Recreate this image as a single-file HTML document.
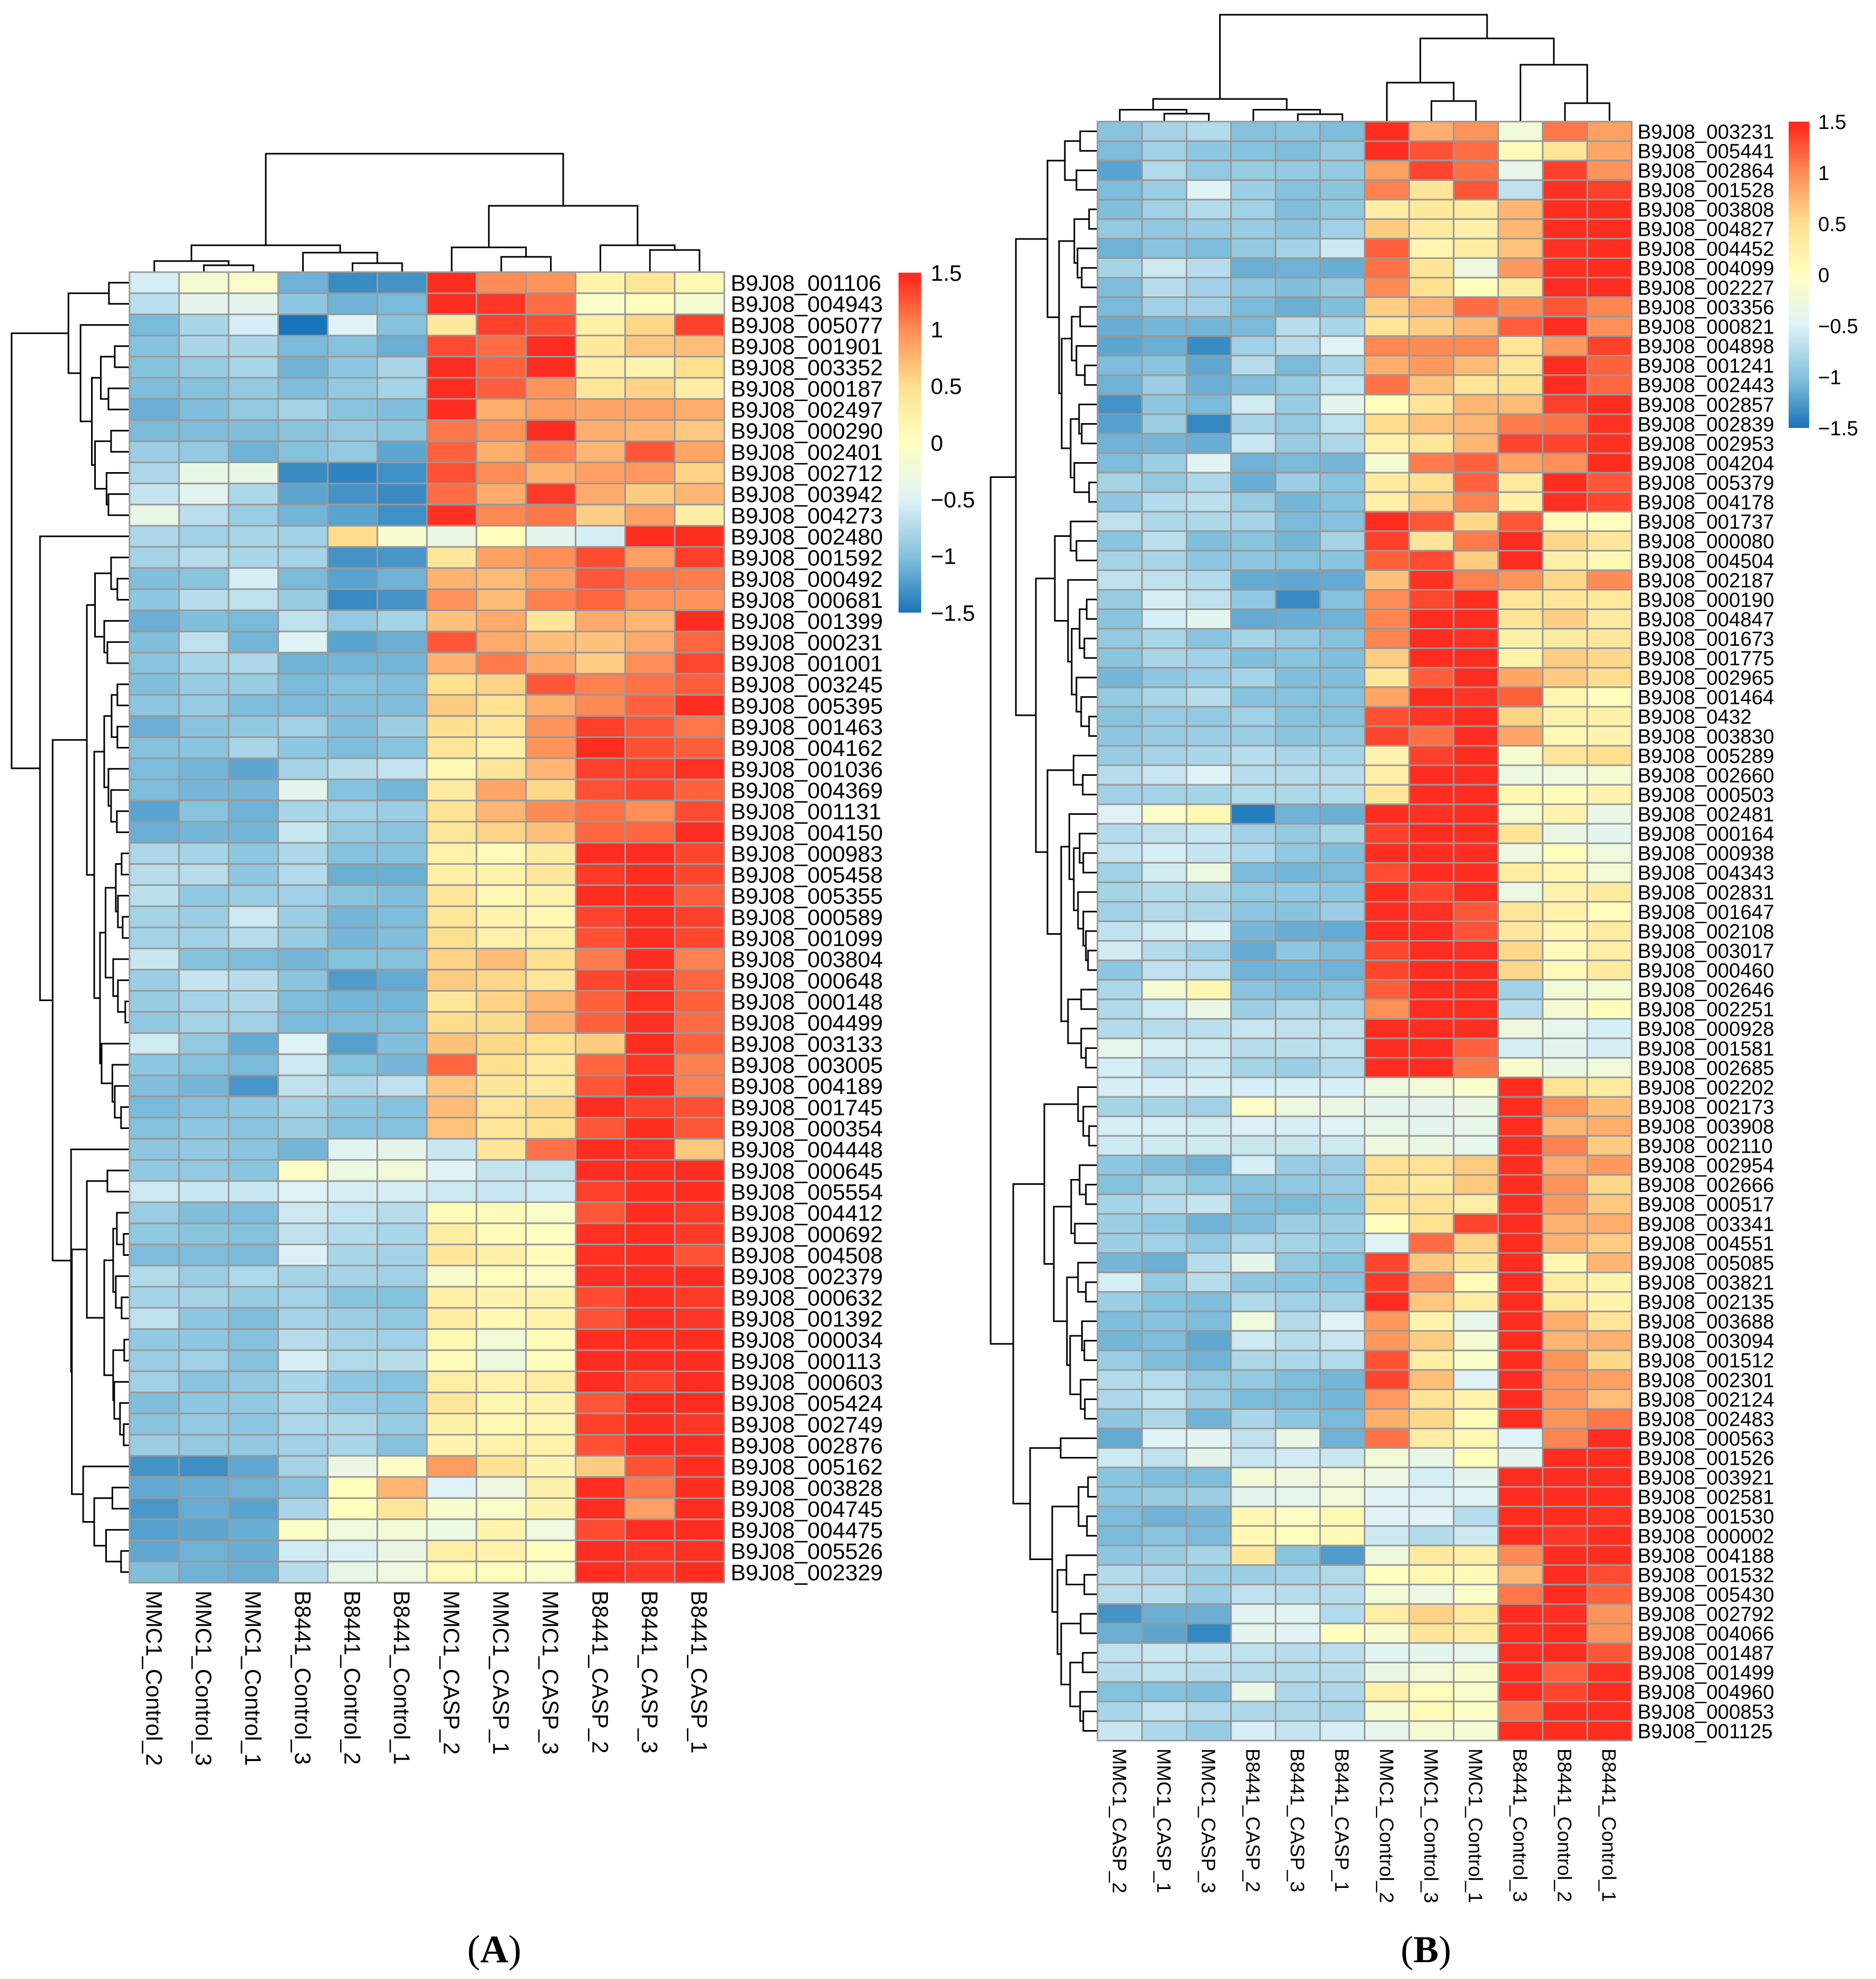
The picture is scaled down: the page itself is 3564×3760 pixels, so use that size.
<!DOCTYPE html>
<html lang="en">
<head>
<meta charset="utf-8">
<title>Heatmaps A and B</title>
<style>
html,body{margin:0;padding:0;background:#fff;}
#figure{display:block;width:3564px;height:3760px;background:#fff;}
text{font-family:"Liberation Sans",Arial,sans-serif;fill:#000;}
.panel{font-family:"Liberation Serif","Times New Roman",serif;}
</style>
</head>
<body>
<svg id="figure" xmlns="http://www.w3.org/2000/svg" width="3564" height="3760" viewBox="0 0 3564 3760">
<defs id="defs"></defs>
<g id="panelA"></g>
<g id="panelB"></g>
<text class="panel" x="939" y="3728" font-size="74" text-anchor="middle">(<tspan font-weight="bold">A</tspan>)</text>
<text class="panel" x="2709" y="3728" font-size="72" text-anchor="middle">(<tspan font-weight="bold">B</tspan>)</text>
</svg>
<script>
// ---------- shared scale ----------
const scaleValues = [-1.5, -1, -0.5, 0, 0.5, 1, 1.44, 1.5];
const scaleColors = ['#1874B8', '#85C2DE', '#DFF3F7', '#FFFFBF', '#FEE08F', '#FF8C55', '#FF2D20', '#FF2D20'];
const legendTicks = [1.5, 1, 0.5, 0, -0.5, -1, -1.5];

// ---------- panel A data ----------
const colsA = ['MMC1_Control_2','MMC1_Control_3','MMC1_Control_1','B8441_Control_3','B8441_Control_2','B8441_Control_1','MMC1_CASP_2','MMC1_CASP_1','MMC1_CASP_3','B8441_CASP_2','B8441_CASP_3','B8441_CASP_1'];
const rowsA = ['001106','004943','005077','001901','003352','000187','002497','000290','002401','002712','003942','004273','002480','001592','000492','000681','001399','000231','001001','003245','005395','001463','004162','001036','004369','001131','004150','000983','005458','005355','000589','001099','003804','000648','000148','004499','003133','003005','004189','001745','000354','004448','000645','005554','004412','000692','004508','002379','000632','001392','000034','000113','000603','005424','002749','002876','005162','003828','004745','004475','005526','002329'];
const valuesA = [
[-.55,-.15,-.1,-1.1,-1.35,-1.3,1.45,1.0,.95,.2,.4,.1],
[-.7,-.4,-.4,-.95,-1.1,-1.05,1.45,1.4,1.15,-.1,.03,-.15],
[-1.05,-.8,-.55,-1.5,-.5,-1.0,.35,1.35,1.3,.25,.55,1.35],
[-1.0,-.8,-.8,-1.05,-1.0,-1.12,1.3,1.15,1.45,.35,.65,.7],
[-1.0,-.9,-.8,-1.1,-.95,-.8,1.45,1.2,1.45,.25,.2,.5],
[-1.03,-1.0,-.92,-1.03,-.92,-.82,1.45,1.22,.95,.4,.58,.3],
[-1.12,-1.02,-.92,-.82,-.98,-1.02,1.45,.8,.9,.85,.85,.8],
[-1.05,-1.03,-1.02,-.98,-.92,-.95,1.1,.95,1.45,.8,.75,.65],
[-.88,-.92,-1.1,-1.0,-.92,-1.18,1.2,.8,1.05,.75,1.25,.85],
[-.78,-.35,-.35,-1.35,-1.4,-1.32,1.28,1.0,.78,.88,.92,.58],
[-.65,-.45,-.78,-1.18,-1.3,-1.35,1.15,.82,1.38,.82,.62,.75],
[-.35,-.7,-.88,-1.08,-1.2,-1.32,1.42,1.02,1.1,.6,.88,.27],
[-.78,-.85,-.8,-.85,.52,-.12,-.32,.02,-.4,-.55,1.47,1.48],
[-.82,-.72,-.8,-.82,-1.3,-1.28,.38,.88,.98,1.3,.88,1.36],
[-1.02,-.98,-.55,-1.05,-1.2,-1.1,.78,.72,.9,1.25,1.1,1.07],
[-.95,-.72,-.68,-.9,-1.35,-1.3,.95,.72,1.05,1.18,.95,.95],
[-1.12,-1.02,-1.05,-.68,-.92,-.82,.68,.82,.4,.82,.75,1.47],
[-1.02,-.68,-1.08,-.48,-1.2,-1.12,1.25,.82,.7,.68,.82,1.18],
[-.98,-.8,-.78,-1.1,-1.08,-1.08,.78,1.08,.82,.6,.98,1.32],
[-1.02,-.9,-.9,-1.05,-1.0,-1.03,.5,.58,1.25,1.05,1.12,1.22],
[-.95,-.9,-1.03,-1.05,-1.02,-1.02,.62,.48,.8,1.02,1.2,1.45],
[-1.12,-.98,-.93,-.85,-1.02,-.88,.5,.4,.95,1.35,1.25,1.1],
[-1.0,-.97,-.8,-.95,-1.03,-.98,.4,.22,.95,1.47,1.28,1.22],
[-1.03,-1.07,-1.18,-.83,-.72,-.66,.12,.42,.75,1.35,1.35,1.42],
[-1.03,-1.07,-1.07,-.42,-1.0,-1.08,.33,.85,.55,1.28,1.33,1.2],
[-1.2,-.98,-1.1,-.8,-.85,-.88,.45,.75,1.0,1.12,.98,1.3],
[-1.12,-1.07,-1.08,-.62,-.92,-.98,.4,.58,.68,1.18,1.18,1.47],
[-.78,-.82,-.95,-.78,-1.0,-1.0,.22,.08,.32,1.47,1.47,1.32],
[-.72,-.72,-.95,-.75,-1.12,-1.12,.25,.2,.38,1.38,1.47,1.32],
[-.7,-.93,-.88,-.85,-.98,-1.02,.38,.12,.2,1.45,1.47,1.22],
[-.82,-.88,-.6,-.87,-1.08,-1.03,.4,.18,.12,1.33,1.47,1.35],
[-.84,-.85,-.73,-.9,-1.07,-1.02,.5,.22,.28,1.28,1.47,1.32],
[-.62,-1.0,-1.03,-1.07,-1.0,-1.0,.58,.72,.5,1.08,1.48,1.05],
[-.87,-.65,-.72,-.97,-1.25,-1.15,.62,.55,.4,1.32,1.42,1.18],
[-.9,-.82,-.78,-1.03,-1.08,-1.08,.38,.58,.75,1.2,1.42,1.2],
[-.93,-.82,-.85,-1.05,-1.05,-1.03,.52,.52,.8,1.2,1.42,1.15],
[-.58,-.92,-1.15,-.5,-1.22,-1.02,.68,.55,.48,.62,1.47,1.2],
[-.95,-1.0,-1.05,-.6,-1.0,-1.07,1.18,.5,.35,1.18,1.4,1.05],
[-1.02,-1.07,-1.28,-.68,-.78,-.68,.65,.4,.35,1.25,1.47,1.05],
[-1.05,-1.0,-.95,-.82,-.95,-1.0,.72,.42,.55,1.45,1.35,1.28],
[-1.0,-.95,-.98,-.88,-1.0,-1.0,.68,.42,.5,1.25,1.47,1.25],
[-.95,-.93,-.97,-1.08,-.45,-.4,-.62,.4,1.12,1.48,1.43,.65],
[-.93,-.92,-.97,-.05,-.3,-.22,-.5,-.65,-.68,1.48,1.48,1.47],
[-.6,-.62,-.62,-.5,-.55,-.55,-.6,-.63,-.6,1.35,1.47,1.48],
[-.88,-1.02,-1.03,-.6,-.66,-.72,.07,.08,-.1,1.25,1.47,1.38],
[-.93,-.97,-1.0,-.68,-.74,-.8,.28,.08,-.03,1.42,1.47,1.38],
[-1.03,-1.03,-1.05,-.52,-.8,-.83,.38,.25,.06,1.42,1.47,1.27],
[-.75,-.88,-.77,-.82,-.82,-.85,-.12,.02,-.07,1.43,1.47,1.48],
[-.82,-.82,-.9,-.83,-.97,-1.0,.25,.17,.18,1.3,1.47,1.38],
[-.68,-.95,-1.03,-.83,-.87,-.93,.3,.12,.2,1.27,1.47,1.4],
[-.93,-.95,-1.0,-.72,-.83,-.85,.12,-.2,.05,1.47,1.47,1.47],
[-.88,-.85,-1.0,-.55,-.76,-.72,.05,-.28,.04,1.47,1.47,1.47],
[-.85,-.97,-.93,-.8,-.95,-1.0,.28,.22,.3,1.47,1.35,1.47],
[-1.02,-.95,-.93,-.78,-.9,-.96,.38,.14,.18,1.25,1.47,1.47],
[-.97,-.92,-.95,-.78,-.78,-.9,.23,.12,.14,1.35,1.47,1.4],
[-.88,-.92,-.93,-.85,-.8,-1.0,.17,.22,.22,1.28,1.47,1.47],
[-1.3,-1.33,-1.17,-.82,-.32,-.05,.9,.48,.16,.62,1.27,1.48],
[-1.16,-1.13,-1.1,-.98,.02,.75,-.5,-.28,.23,1.47,1.1,1.47],
[-1.27,-1.14,-1.2,-.8,.02,.42,-.12,-.08,.18,1.47,.88,1.47],
[-1.22,-1.18,-1.13,-.07,-.25,-.2,-.3,.18,-.27,1.3,1.43,1.47],
[-1.17,-1.1,-1.13,-.58,-.52,-.32,.26,.2,.02,1.47,1.4,1.42],
[-1.02,-1.1,-1.12,-.72,-.35,-.27,.08,.04,-.1,1.48,1.4,1.48]
];
// Dendrograms: node = [merge height, left, right]; 0 = next leaf in display order.
const colTreeA = [225,[51,[21,0,[13,0,0]],[37,0,[17,0,0]]],[126,[47,0,[29,0,0]],[51,0,[42,0,0]]]];
const rowTreeA = [224,
 [116,[39,0,0],[93,0,[71.5,[54.5,[28,0,0],[40,0,0]],[65.5,[35,0,0],[43.6,0,[40,0,0]]]]]],
 [170,0,[146,
  [81,[65.5,[35,0,[23,0,0]],[48,0,[42,0,0]]],
      [67,[48,[34,[23,0,0],[23,0,0]],[40,0,[35,0,[24,0,0]]]],
          [56,[45.5,[26,[15,0,0],[22,0,[13,0,0]]],[31,0,[22,0,[8,0,0]]]],
              [53,0,[32.5,0,[28,0,[16,0,0]]]]]]],
  [111,0,[109.5,
     [81,[42,0,0],[48,[31,[24,0,[11,0,0]],[26,0,[15,0,0]]],[31,[10,0,0],[29,0,[18,0,[11,0,0]]]]]],
     [88,0,[67,[32.5,0,0],[44.5,0,[16,0,0]]]]]]]]];

// ---------- panel B data ----------
const colsB = ['MMC1_CASP_2','MMC1_CASP_1','MMC1_CASP_3','B8441_CASP_2','B8441_CASP_3','B8441_CASP_1','MMC1_Control_2','MMC1_Control_3','MMC1_Control_1','B8441_Control_3','B8441_Control_2','B8441_Control_1'];
const rowsB = ['003231','005441','002864','001528','003808','004827','004452','004099','002227','003356','000821','004898','001241','002443','002857','002839','002953','004204','005379','004178','001737','000080','004504','002187','000190','004847','001673','001775','002965','001464','0432','003830','005289','002660','000503','002481','000164','000938','004343','002831','001647','002108','003017','000460','002646','002251','000928','001581','002685','002202','002173','003908','002110','002954','002666','000517','003341','004551','005085','003821','002135','003688','003094','001512','002301','002124','002483','000563','001526','003921','002581','001530','000002','004188','001532','005430','002792','004066','001487','001499','004960','000853','001125'];
const valuesB = [
[-.98,-.82,-.75,-1.0,-.97,-1.03,1.47,.8,.95,-.22,1.1,.88],
[-1.03,-.85,-.95,-1.0,-1.03,-.92,1.47,1.27,1.15,.08,.42,.85],
[-1.2,-.75,-.92,-.9,-.92,-.92,.88,1.33,1.13,-.37,1.35,.95],
[-1.03,-.88,-.48,-.87,-1.0,-.97,1.05,.42,1.25,-.68,1.42,1.35],
[-1.02,-.85,-.75,-.85,-1.03,-.93,.27,.35,.33,.75,1.47,1.48],
[-.92,-.93,-.9,-.9,-.97,-.85,.62,.32,.22,.75,1.47,1.48],
[-1.1,-.97,-1.03,-.92,-.83,-.6,1.2,.15,.3,.68,1.42,1.48],
[-.82,-.6,-.72,-1.12,-1.1,-1.13,1.12,.42,-.28,.92,1.43,1.47],
[-1.03,-.72,-.85,-.95,-1.02,-.92,1.0,.48,.02,.32,1.45,1.47],
[-1.05,-.85,-.85,-1.05,-1.12,-1.02,.6,.75,1.15,1.0,1.25,1.03],
[-1.13,-1.08,-1.08,-1.05,-.72,-.8,.42,.6,.75,1.22,1.45,.98],
[-1.18,-1.12,-1.35,-.85,-.72,-.5,1.02,1.0,1.02,.42,.92,1.35],
[-1.03,-.97,-1.17,-.72,-1.05,-.8,.8,.92,.72,.4,1.47,1.2],
[-1.1,-.88,-1.12,-1.02,-.92,-.66,1.12,.68,.42,.48,1.47,1.17],
[-1.3,-.95,-1.05,-.58,-.9,-.42,.03,.42,.75,.72,1.35,1.48],
[-1.22,-.88,-1.37,-.8,-.92,-.68,.52,.68,.75,1.07,1.12,1.42],
[-1.1,-1.07,-1.13,-.62,-.9,-.78,.2,.4,.75,1.33,1.33,1.42],
[-1.03,-.87,-.45,-1.1,-1.05,-1.07,-.17,1.08,1.2,.87,.98,1.48],
[-.82,-.92,-.78,-1.13,-.87,-.98,.32,.48,1.2,.35,1.47,1.25],
[-.95,-.75,-.7,-.9,-1.08,-1.0,.25,.62,1.05,.25,1.43,1.33],
[-.68,-.78,-.78,-.82,-1.05,-1.0,1.45,1.25,.55,1.25,.08,.02],
[-.97,-.7,-1.03,-.97,-1.08,-.82,1.35,.42,1.08,1.47,.55,.38],
[-.82,-.8,-.95,-.95,-1.0,-.97,1.2,1.3,.62,1.47,.25,.12],
[-.68,-.68,-.75,-1.15,-1.17,-1.15,.68,1.42,1.05,.95,.55,1.0],
[-.9,-.55,-.68,-.93,-1.35,-1.0,1.0,1.32,1.48,.4,.38,.35],
[-.97,-.55,-.43,-1.15,-1.13,-1.1,1.03,1.47,1.48,.42,.6,.33],
[-.92,-.8,-.98,-.82,-.92,-1.0,1.03,1.48,1.42,.25,.33,.38],
[-.97,-.8,-.85,-1.02,-.98,-1.02,.62,1.48,1.48,.2,.6,.55],
[-1.07,-.95,-.88,-.82,-1.02,-1.02,.4,1.22,1.47,.85,.62,.52],
[-.92,-.8,-.72,-1.0,-1.0,-1.0,.85,1.48,1.4,1.2,.15,.03],
[-.98,-.9,-.92,-.85,-1.0,-1.0,1.28,1.4,1.47,.58,.2,.25],
[-.95,-.9,-.88,-.88,-.97,-.93,1.32,1.13,1.47,.85,.12,.17],
[-.9,-.82,-.8,-.72,-.8,-.82,.18,1.35,1.47,-.12,.42,.5],
[-.72,-.63,-.5,-.72,-.74,-.73,.28,1.47,1.47,-.3,-.25,-.18],
[-.85,-.83,-.82,-.75,-.78,-.75,.42,1.47,1.47,.15,.05,.17],
[-.5,-.08,.12,-1.45,-1.1,-1.12,1.48,1.42,1.45,-.15,.18,-.33],
[-.75,-.68,-.62,-.85,-.92,-.8,1.35,1.47,1.47,.42,-.33,-.42],
[-.65,-.55,-.65,-.78,-.93,-1.02,1.48,1.47,1.46,-.28,.02,-.27],
[-.85,-.58,-.3,-1.05,-1.08,-1.05,1.3,1.47,1.47,.3,.15,-.2],
[-.82,-.74,-.78,-.92,-.93,-.95,1.48,1.33,1.47,-.3,.17,.33],
[-.85,-.76,-.78,-.95,-.98,-.88,1.48,1.42,1.25,.42,.22,.04],
[-.68,-.58,-.48,-1.07,-1.13,-1.15,1.47,1.47,1.27,.38,.15,.3],
[-.58,-.75,-.85,-1.15,-.95,-1.03,1.33,1.47,1.43,.55,.05,.27],
[-.95,-.68,-.7,-1.1,-1.08,-1.1,1.33,1.45,1.47,.55,.08,.33],
[-.78,-.15,.15,-.97,-1.03,-1.0,1.22,1.47,1.47,-.85,-.2,-.18],
[-.77,-.6,-.33,-.87,-.78,-.82,.98,1.47,1.47,-.72,-.15,.03],
[-.75,-.72,-.7,-.63,-.68,-.68,1.48,1.47,1.47,-.28,-.38,-.55],
[-.38,-.55,-.6,-.72,-.7,-.68,1.47,1.47,1.2,-.55,-.42,-.55],
[-.55,-.72,-.62,-.82,-.87,-.75,1.47,1.47,1.1,-.12,-.33,-.22],
[-.55,-.55,-.55,-.55,-.55,-.55,-.28,-.2,-.1,1.48,.45,.32],
[-.82,-.82,-.85,-.08,-.3,-.33,-.42,-.4,-.33,1.48,.98,.7],
[-.55,-.55,-.58,-.52,-.55,-.5,-.37,-.4,-.37,1.48,.75,.8],
[-.6,-.6,-.6,-.62,-.62,-.6,-.28,-.32,-.38,1.48,1.05,.62],
[-.95,-1.02,-1.1,-.55,-.9,-.88,.45,.45,.62,1.48,.82,.92],
[-1.0,-.82,-.93,-.97,-.93,-.9,.47,.35,.65,1.48,.95,.55],
[-.82,-.72,-.65,-1.02,-1.05,-.97,.4,.45,.27,1.48,.92,.65],
[-.87,-.93,-1.1,-1.02,-.88,-.88,.03,.48,1.33,1.48,.78,.8],
[-.87,-.85,-.93,-.78,-.83,-.88,-.5,1.15,.58,1.48,.78,.62],
[-1.07,-1.12,-.72,-.4,-.92,-1.0,1.33,.65,.42,1.48,.15,.75],
[-.55,-.92,-.72,-.95,-.97,-.98,1.38,.95,.05,1.48,.3,.18],
[-.87,-1.0,-1.03,-.77,-.85,-.83,1.47,.65,.3,1.48,.35,.18],
[-1.03,-1.0,-1.03,-.25,-.75,-.5,.92,.2,-.37,1.48,.8,.42],
[-1.08,-1.03,-1.17,-.6,-.72,-.63,.92,.62,-.15,1.48,.75,.78],
[-.88,-1.02,-1.1,-.78,-.78,-.75,1.27,.28,-.1,1.48,.95,.55],
[-.75,-.73,-.92,-.92,-1.03,-1.07,1.32,.7,-.5,1.48,.95,.88],
[-.78,-.68,-.88,-1.05,-1.05,-1.07,.92,.45,.2,1.48,.95,.7],
[-.95,-.78,-1.1,-.8,-.95,-1.05,.8,.55,.05,1.48,.95,1.1],
[-1.15,-.48,-.46,-.68,-.33,-1.1,1.12,.3,.12,-.5,1.03,1.48],
[-.6,-.68,-.4,-.62,-.58,-.62,-.2,-.35,.03,-.42,1.48,1.48],
[-.97,-1.03,-1.03,-.2,-.28,-.22,-.3,-.55,-.42,1.48,1.48,1.48],
[-.95,-.9,-.88,-.42,-.38,-.22,-.5,-.52,-.48,1.46,1.48,1.47],
[-1.03,-1.1,-1.07,.14,-.05,.12,-.5,-.48,-.72,1.46,1.47,1.42],
[-1.05,-.97,-1.05,.12,.03,.1,-.6,-.75,-.6,1.48,1.4,1.47],
[-.95,-.9,-.82,.35,-.98,-1.25,-.28,.35,.25,1.0,1.47,1.46],
[-.75,-.78,-.88,-.87,-.82,-.76,0,.12,.1,.75,1.47,1.3],
[-.72,-.72,-.88,-.68,-.73,-.72,-.2,-.3,-.08,1.1,1.47,1.2],
[-1.3,-1.12,-1.12,-.45,-.45,-.75,.28,.58,.35,1.47,1.43,.95],
[-1.12,-1.18,-1.37,-.42,-.48,.02,-.12,.42,.3,1.47,1.45,.95],
[-.68,-.62,-.65,-.68,-.72,-.7,-.45,-.42,-.38,1.47,1.45,1.25],
[-.72,-.68,-.72,-.73,-.75,-.72,-.33,-.22,-.12,1.47,1.22,1.42],
[-1.0,-1.0,-1.02,-.35,-.78,-.78,.2,.03,-.1,1.47,1.33,1.45],
[-.8,-.65,-.75,-.78,-.78,-.8,-.15,.05,-.05,1.15,1.47,1.47],
[-.62,-.78,-.9,-.55,-.65,-.55,-.38,-.15,-.18,1.48,1.48,1.48]
];
const colTreeB = [203,[43,[22.5,0,[15,0,0]],[22.5,0,[14,0,0]]],[158,[74,0,[39,0,0]],[108,0,[35,0,0]]]];
const rowTreeB = [203,
 [155,
  [95,
   [62,[33,0,0],[40,0,0]],
   [73,[44,[16,0,0],[38,0,[30,0,0]]],
       [68,[49,[33,0,0],[40,0,[24,0,0]]],[51,[35,0,[30,0,0]],[44,0,[16,0,0]]]]]],
  [117,
   [81,[51,0,[40,0,0]],[56,0,[49,[34,[20.5,0,0],[25,0,0]],[40,0,[31,0,[16,0,0]]]]]],
   [95,[45.5,0,[28,0,0]],
       [69,[53.5,0,[45,[34,0,[27,0,0]],[37,0,[27,0,[22,0,[18,0,0]]]]]],
           [56,[31,0,0],[31,0,[22,0,0]]]]]]],
 [160,
  [101,[37,0,[27,0,[16,0,0]]],
       [83,[50,[34,0,[22,0,0]],[43,0,0]],
           [58,[37,0,[22,0,0]],[52,[29.5,0,[25,0,0]],[32,0,[24,0,0]]]]]],
  [128,[70,0,0],
       [86,[36,[18,0,0],[20,0,0]],
           [76,[59,0,[25,0,0]],[69,[32,0,0],[52,[28,0,0],[33,0,[27,0,0]]]]]]]]];

// ---------- drawing ----------
const NS = 'http://www.w3.org/2000/svg';
function make(tag, parent) {
  const el = document.createElementNS(NS, tag);
  parent.appendChild(el);
  return el;
}
function hex(c) { return [1, 3, 5].map(i => parseInt(c.substr(i, 2), 16)); }
function colorFor(v) {
  const c = Math.max(scaleValues[0], Math.min(scaleValues[scaleValues.length - 1], v));
  let i = 0;
  while (i < scaleValues.length - 2 && c > scaleValues[i + 1]) i++;
  const t = (c - scaleValues[i]) / (scaleValues[i + 1] - scaleValues[i]);
  const a = hex(scaleColors[i]), b = hex(scaleColors[i + 1]);
  return 'rgb(' + a.map((x, k) => Math.round(x + (b[k] - x) * t)).join(',') + ')';
}
function drawTree(tree, parent, leafPos, heightPos, horizontal, name) {
  let leaf = 0;
  function walk(node) {
    if (node === 0) { const p = leafPos(leaf); leaf++; return { p: p, h: 0 }; }
    const a = walk(node[1]), b = walk(node[2]);
    const H = heightPos(node[0]), A = heightPos(a.h), B = heightPos(b.h);
    const path = make('path', parent);
    
    
    path.setAttribute('fill', 'none');
    path.setAttribute('stroke', '#000');
    path.setAttribute('stroke-width', '3');
    path.setAttribute('d', horizontal
      ? 'M' + A + ' ' + a.p + 'H' + H + 'V' + b.p + 'H' + B
      : 'M' + a.p + ' ' + A + 'V' + H + 'H' + b.p + 'V' + B);
    return { p: (a.p + b.p) / 2, h: node[0] };
  }
  walk(tree);
}
function drawPanel(cfg) {
  const g = document.getElementById(cfg.id);
  const cw = cfg.w / cfg.cols.length, ch = cfg.h / cfg.rows.length;
  const xOf = j => cfg.x + j * cw;
  const yOf = i => cfg.y + i * ch;

  drawTree(cfg.colTree, g, j => xOf(j) + cw / 2, h => cfg.y - h, false, 'column-dendrogram-link');
  drawTree(cfg.rowTree, g, i => yOf(i) + ch / 2, h => cfg.x - h, true, 'row-dendrogram-link');

  cfg.values.forEach((row, i) => {
    row.forEach((v, j) => {
      const r = make('rect', g);
      
      
      r.setAttribute('x', xOf(j));
      r.setAttribute('y', yOf(i));
      r.setAttribute('width', cw);
      r.setAttribute('height', ch);
      r.setAttribute('fill', colorFor(v));
      r.setAttribute('stroke', '#999');
      r.setAttribute('stroke-width', '3');
    });
  });
  cfg.rows.forEach((s, i) => {
    const t = make('text', g);
    
    
    t.setAttribute('x', cfg.labelX);
    t.setAttribute('y', yOf(i) + ch / 2 + cfg.rowFont * 0.36);
    t.setAttribute('font-size', cfg.rowFont);
    t.textContent = 'B9J08_' + s;
  });
  cfg.cols.forEach((s, j) => {
    const t = make('text', g);
    const cx = xOf(j) + cw / 2 - cfg.colFont * 0.36;
    
    
    t.setAttribute('font-size', cfg.colFont);
    t.setAttribute('transform', 'translate(' + cx + ' ' + cfg.colLabelY + ') rotate(90)');
    t.textContent = s;
  });

  // colour legend
  const defs = document.getElementById('defs');
  const grad = make('linearGradient', defs);
  grad.setAttribute('id', 'grad-' + cfg.id);
  grad.setAttribute('x1', '0');
  grad.setAttribute('y1', '1');
  grad.setAttribute('x2', '0');
  grad.setAttribute('y2', '0');
  scaleValues.forEach(v => {
    const st = make('stop', grad);
    st.setAttribute('offset', (v - scaleValues[0]) / (scaleValues[scaleValues.length - 1] - scaleValues[0]));
    st.setAttribute('stop-color', colorFor(v));
  });
  const bar = make('rect', g);
  
  
  bar.setAttribute('x', cfg.legX);
  bar.setAttribute('y', cfg.legY);
  bar.setAttribute('width', cfg.legW);
  bar.setAttribute('height', cfg.legH);
  bar.setAttribute('fill', 'url(#grad-' + cfg.id + ')');
  const legendY = v => cfg.legY + (1.5 - v) / 3 * cfg.legH;
  legendTicks.forEach(v => {
    const t = make('text', g);
    
    
    t.setAttribute('x', cfg.legLabelX);
    t.setAttribute('y', legendY(v) + cfg.legFont * 0.36);
    t.setAttribute('font-size', cfg.legFont);
    t.textContent = String(v).replace('-', '\u2212');
  });
}
drawPanel({ id: 'panelA', x: 246, y: 517, w: 1130, h: 2490, cols: colsA, rows: rowsA, values: valuesA, colTree: colTreeA, rowTree: rowTreeA, labelX: 1388, rowFont: 43, legFont: 42.7, colFont: 42.5, colLabelY: 3022, legX: 1707, legY: 518, legW: 43, legH: 646, legLabelX: 1768 });
drawPanel({ id: 'panelB', x: 2085, y: 231, w: 1015, h: 3076, cols: colsB, rows: rowsB, values: valuesB, colTree: colTreeB, rowTree: rowTreeB, labelX: 3111, rowFont: 38.6, legFont: 38.5, colFont: 37.5, colLabelY: 3322, legX: 3398, legY: 231, legW: 39, legH: 582, legLabelX: 3454 });
</script>
</body>
</html>
